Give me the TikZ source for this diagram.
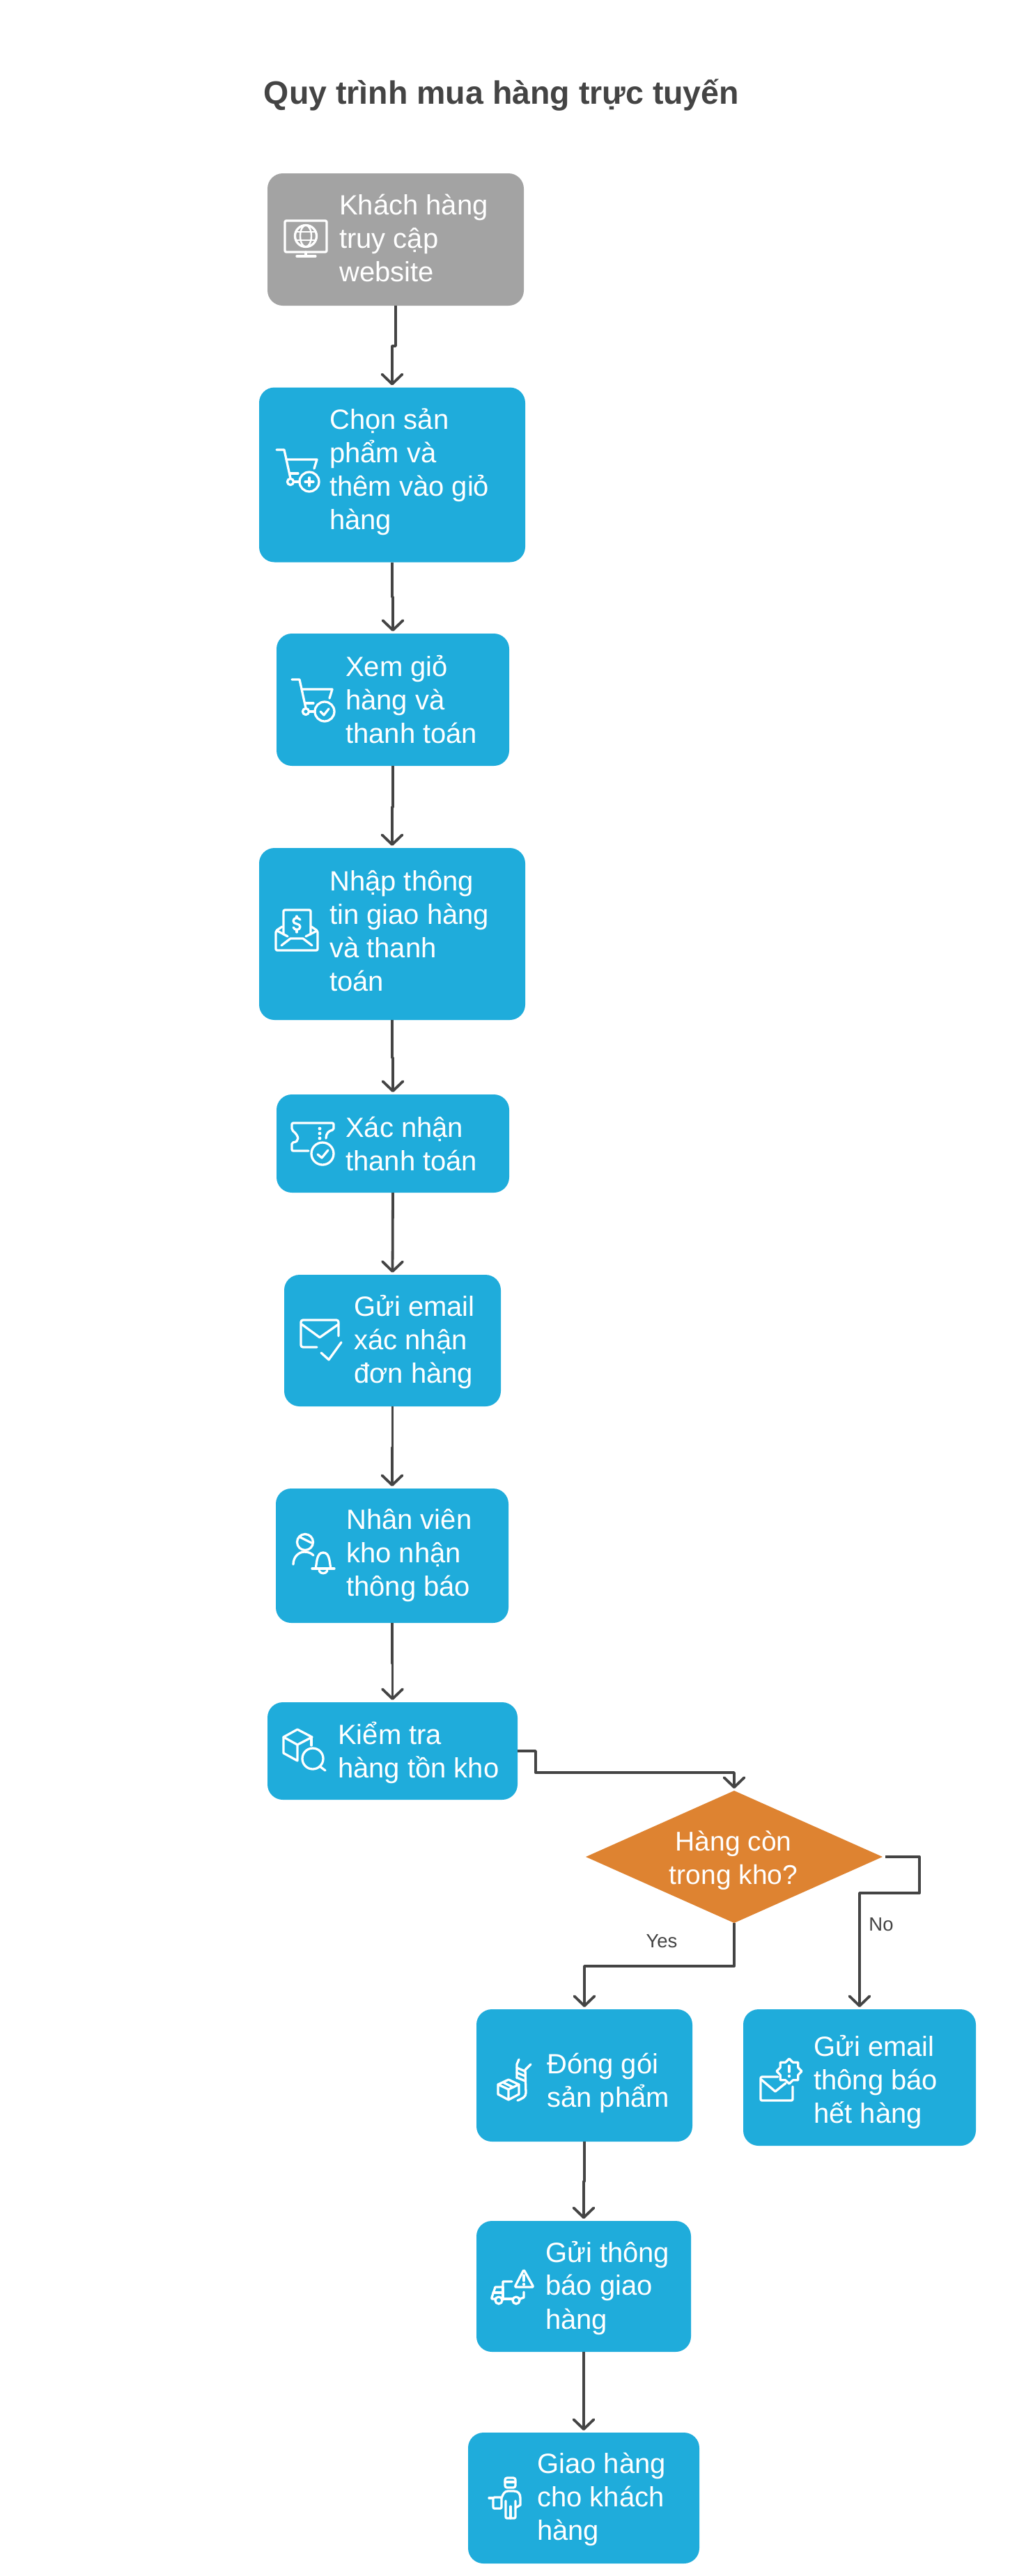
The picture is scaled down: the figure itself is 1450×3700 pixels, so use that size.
\documentclass[tikz,border=0pt]{standalone}
\usepackage{fontspec}
\setmainfont{Liberation Sans}
\usetikzlibrary{arrows.meta,calc,shapes.geometric}

\begin{document}
\begin{tikzpicture}[
  x=1pt, y=-1pt,
  stepbox/.style={fill=stepblue, rounded corners=22pt, inner sep=0pt, outer sep=0pt},
  steptext/.style={anchor=west, align=left, text=white, inner sep=0pt, font=\fontsize{40}{48}\selectfont},
  decision/.style={diamond, shape aspect=2.24, fill=deciorange, inner sep=0pt, outer sep=0pt,
    minimum width=426pt, minimum height=190pt},
  flow/.style={draw=linegray, line width=3.8pt, line join=round, shorten >=3pt,
    -{Straight Barb[length=14pt,width=29pt,round]}},
  branchlab/.style={text=linegray, inner sep=0pt, font=\fontsize{27.5}{32}\selectfont},
  icon/.style={draw=white, line width=3.3pt, line cap=round, line join=round},
  cartbody/.pic={
    \draw[icon] (0,0) -- (11,0) -- (20,41);
    \draw[icon] (14,14) -- (58,14) -- (54,27);
    \draw[icon] (20,34) -- (31,34);
    \draw[icon] (20,46) circle (4.5);
    \draw[icon] (25,46) -- (33,46);
    \draw[icon] (47,46) circle (14);
  }
]
\definecolor{stepblue}{HTML}{1FACDB}
\definecolor{deciorange}{HTML}{DE8331}
\definecolor{linegray}{HTML}{444444}
\useasboundingbox (0,0) rectangle (1450,3700);
\fill[white] (0,0) rectangle (1450,3700);

\node[text=linegray, font=\fontsize{46.5}{56}\selectfont\bfseries] (title) at (720,137) {Quy trình mua hàng trực tuyến};

% boxes
\node[stepbox, fill=gray!72, minimum width=368pt, minimum height=190pt] (customer) at (568,344) {};
\node[stepbox, minimum width=382pt, minimum height=251pt] (choose) at (563,682) {};
\node[stepbox, minimum width=334pt, minimum height=190pt] (viewcart) at (564,1005) {};
\node[stepbox, minimum width=382pt, minimum height=247pt] (enterinfo) at (563,1341.5) {};
\node[stepbox, minimum width=334pt, minimum height=141pt] (confirm) at (564,1642.5) {};
\node[stepbox, minimum width=311pt, minimum height=189pt] (mailorder) at (563.5,1925.5) {};
\node[stepbox, minimum width=334pt, minimum height=193pt] (staff) at (563,2234.5) {};
\node[stepbox, minimum width=359pt, minimum height=140pt] (stockcheck) at (563.5,2515) {};
\node[decision] (instock) at (1054,2667) {};
\node[stepbox, minimum width=310pt, minimum height=190pt] (pack) at (839,2981) {};
\node[stepbox, minimum width=334pt, minimum height=196pt] (mailout) at (1234,2984) {};
\node[stepbox, minimum width=308pt, minimum height=188pt] (notify) at (838,3284) {};
\node[stepbox, minimum width=332pt, minimum height=188pt] (deliver) at (838,3588) {};

% texts
\node[steptext] (customertxt) at (487,342) {Khách hàng\\truy cập\\website};
\node[steptext] (choosetxt) at (473,678) {Chọn sản\\phẩm và\\thêm vào giỏ\\hàng};
\node[steptext] (viewcarttxt) at (496,1005) {Xem giỏ\\hàng và\\thanh toán};
\node[steptext] (enterinfotxt) at (473,1337.5) {Nhập thông\\tin giao hàng\\và thanh\\toán};
\node[steptext] (confirmtxt) at (496,1642.5) {Xác nhận\\thanh toán};
\node[steptext] (mailordertxt) at (508,1927.5) {Gửi email\\xác nhận\\đơn hàng};
\node[steptext] (stafftxt) at (497,2234.5) {Nhân viên\\kho nhận\\thông báo};
\node[steptext] (stockchecktxt) at (485,2517) {Kiểm tra\\hàng tồn kho};
\node[steptext, align=center, anchor=center, font=\fontsize{39}{48}\selectfont] (instocktxt) at (1053,2672) {Hàng còn\\trong kho?};
\node[steptext] (packtxt) at (785,2992) {Đóng gói\\sản phẩm};
\node[steptext] (mailouttxt) at (1168,2991) {Gửi email\\thông báo\\hết hàng};
\node[steptext] (notifytxt) at (783,3286) {Gửi thông\\báo giao\\hàng};
\node[steptext] (delivertxt) at (771,3590) {Giao hàng\\cho khách\\hàng};

% connectors
\draw[flow] (customer.south) -- ++(0,58) -| (choose.north);
\draw[flow] (choose.south) -- ++(0,50) -| (viewcart.north);
\draw[flow] (viewcart.south) -- ++(0,59) -| (enterinfo.north);
\draw[flow] (enterinfo.south) -- ++(0,54) -| (confirm.north);
\draw[flow] (confirm.south) -- (mailorder.north);
\draw[flow] (mailorder.south) -- ++(0,59) -| (staff.north);
\draw[flow] (staff.south) -- ++(0,58) -| (stockcheck.north);
\draw[flow] (stockcheck.east) -- ++(26,0) |- ($(instock.north)+(0,-26)$) -- (instock.north);
\draw[flow] (instock.south) -- ++(0,62) -| (pack.north);
\draw[flow, shorten <=4pt] (instock.east) -- ++(53,0) -- ++(0,52) -| (mailout.north);
\draw[flow] (pack.south) -- ++(0,57) -| (notify.north);
\draw[flow] (notify.south) -- (deliver.north);
\node[branchlab] (yeslab) at (950,2788) {Yes};
\node[branchlab] (nolab) at (1265,2764) {No};

% monitor
\draw[icon, rounded corners=2pt] (409,317) rectangle (469,362);
\draw[icon] (439,362) -- (439,368) (426,368) -- (453,368);
\draw[icon] (439,339) circle (15.5);
\draw[icon, line width=2.4pt] (439,339) ellipse (8 and 15.5);
\draw[icon, line width=2.4pt] (425,333) -- (453,333) (425,345) -- (453,345);

% carts
\pic at (397,646) {cartbody};
\draw[icon] (444,686) -- (444,698) (438,692) -- (450,692);
\pic at (419,976) {cartbody};
\draw[icon] (460,1022) -- (465,1027) -- (472,1018);

% envelope with bill
\draw[icon, rounded corners=2pt] (407,1342) -- (407,1307) -- (446,1307) -- (446,1342);
\draw[icon, rounded corners=2pt] (405,1331) -- (396,1337) -- (396,1365) -- (456,1365) -- (456,1337) -- (447,1331);
\draw[icon] (398,1337) -- (413,1345) (455,1337) -- (439,1345);
\draw[icon] (404,1358) -- (417,1348) -- (435,1348) -- (448,1358);
\draw[icon] (431,1321) .. controls (428,1317) and (421,1318) .. (421,1323) .. controls (421,1328) and (431,1326) .. (431,1331) .. controls (431,1336) and (423,1337) .. (421,1332);
\draw[icon] (426,1316) -- (426,1318) (426,1336) -- (426,1339);

% ticket
\draw[icon, rounded corners=2pt] (443,1653) -- (419,1653) -- (419,1641) .. controls (430,1640) and (430,1632) .. (419,1623) -- (419,1613) -- (479,1613) -- (479,1623) .. controls (472,1624) and (468,1628) .. (468,1635);
\fill[white] (459,1621) circle (2.4) (459,1628) circle (2.4) (459,1635) circle (2.4);
\draw[icon] (463,1657) circle (16);
\draw[icon] (456,1658) -- (462,1663) -- (471,1652);

% mail with tick
\draw[icon, rounded corners=3pt] (486,1919) -- (486,1896) -- (432,1896) -- (432,1935) -- (455,1935);
\draw[icon] (433,1902) -- (459,1921) -- (486,1902);
\draw[icon] (461,1943) -- (472,1953) -- (490,1928);

% staff with bell
\draw[icon] (438,2215) circle (11.5);
\draw[icon] (431,2208) -- (447,2216);
\draw[icon] (421,2247) .. controls (421,2236) and (429,2229) .. (437,2229) .. controls (443,2229) and (447,2231) .. (450,2234);
\draw[icon] (448,2253) -- (480,2253);
\draw[icon] (453,2253) .. controls (455,2246) and (454,2230) .. (464,2230) .. controls (474,2230) and (473,2246) .. (475,2253);
\draw[icon] (458,2256) .. controls (460,2261) and (468,2261) .. (470,2256);

% cube with lens
\draw[icon] (427,2484) -- (448,2495) -- (427,2506) -- (407,2495) -- cycle;
\draw[icon] (407,2495) -- (407,2518) -- (427,2529) -- (427,2506);
\draw[icon] (447,2495) -- (447,2507);
\draw[icon] (449,2526) circle (15);
\draw[icon] (459,2537) -- (467,2543);

% box on trolley
\draw[icon] (730,2987) -- (745,2994) -- (745,3008) -- (730,3016) -- (715,3008) -- (715,2994) -- cycle;
\draw[icon] (715,2994) -- (730,3001) -- (745,2994) (730,3001) -- (730,3016);
\draw[icon] (722,2991) -- (737,2998);
\draw[icon] (745,2958) -- (742,2965) -- (742,2985);
\draw[icon] (762,2965) -- (754,2973) -- (755,3006) .. controls (755,3012) and (750,3014) .. (743,3017);
\draw[icon] (742,2970) -- (754,2975) (742,2977) -- (754,2982) (742,2984) -- (754,2989);

% mail with badge
\draw[icon, rounded corners=2pt] (1117,2983) -- (1092,2983) -- (1092,3017) -- (1138,3017) -- (1138,2997);
\draw[icon] (1093,2987) -- (1113,3004) -- (1128,2992);
\node[star, star points=8, star point ratio=1.3, minimum size=36pt, inner sep=0pt, icon] (badge) at (1133,2975) {};
\draw[icon] (1133,2967) -- (1133,2976);
\fill[white] (1133,2982) circle (2.2);

% truck with warning
\draw[icon] (735,3277) -- (722,3277) -- (722,3285) -- (711,3285) -- (706,3300) -- (706,3302) -- (711,3302);
\draw[icon] (708,3293) -- (722,3293) (722,3285) -- (722,3302) -- (736,3302);
\draw[icon] (746,3302) -- (752,3300) -- (752,3292);
\draw[icon] (716,3304) circle (5) (741,3304) circle (5);
\draw[icon, rounded corners=2pt] (752,3260) -- (766,3285) -- (739,3285) -- cycle;
\draw[icon] (752,3268) -- (752,3276);
\fill[white] (752,3281) circle (2.2);

% courier
\draw[icon, rounded corners=3pt] (725,3559) rectangle (740,3573);
\draw[icon] (725,3565) -- (740,3565);
\draw[icon, rounded corners=2pt] (708,3587) rectangle (720,3603);
\draw[icon] (702,3588) -- (708,3588);
\draw[icon] (720,3588) .. controls (722,3583) and (724,3578) .. (729,3578) -- (738,3578) .. controls (744,3578) and (747,3582) .. (747,3588) -- (747,3598) -- (740,3602);
\draw[icon, rounded corners=2pt] (726,3592) -- (726,3617) -- (740,3617) -- (740,3592);
\draw[icon] (733,3600) -- (733,3617);
\end{tikzpicture}
\end{document}
